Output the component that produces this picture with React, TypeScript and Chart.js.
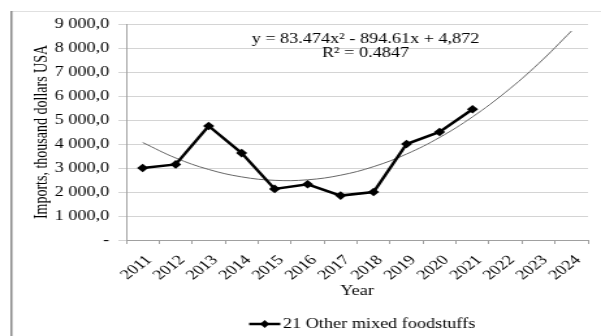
import { useEffect, useRef } from "react";
import { Chart, registerables } from "chart.js";

Chart.register(...registerables);

const years = ["2011", "2012", "2013", "2014", "2015", "2016", "2017", "2018", "2019", "2020", "2021", "2022", "2023", "2024"];
const imports: (number | null)[] = [3000, 3150, 4750, 3620, 2130, 2320, 1850, 2000, 4000, 4500, 5450, null, null, null];
const trend = [4061, 3417, 2939, 2629, 2486, 2509, 2700, 3057, 3582, 4273, 5132, 6157, 7349, 8708];
const seriesLabel = "21 Other mixed foodstuffs";
const equationText = "y = 83.474x² - 894.61x + 4,872";
const r2Text = "R² = 0.4847";
const yTitle = "Imports, thousand dollars USA";
const xTitle = "Year";

const FONT = '"Liberation Serif", "Times New Roman", serif';
// The reference picture is horizontally stretched; draw on a narrower canvas and widen it.
const CANVAS_W = 462;
const PAGE_W = 601;
const PAGE_H = 336;

function fmt(v: number): string {
  if (v === 0) return "-";
  const th = Math.floor(v / 1000);
  const rest = String(Math.round(v % 1000)).padStart(3, "0");
  return `${th} ${rest},0`;
}

export default function App() {
  const ref = useRef<HTMLCanvasElement | null>(null);

  useEffect(() => {
    if (!ref.current) return;

    const framePlugin = {
      id: "frame",
      beforeDraw(chart: any) {
        const ctx = chart.ctx;
        ctx.save();
        ctx.strokeStyle = "#e0e0e0";
        ctx.lineWidth = 1;
        ctx.beginPath();
        ctx.moveTo(8.5, 11.5);
        ctx.lineTo(CANVAS_W, 11.5);
        ctx.stroke();
        ctx.strokeStyle = "#8a8a8a";
        ctx.lineWidth = 1.5;
        ctx.beginPath();
        ctx.moveTo(8.75, 11);
        ctx.lineTo(8.75, PAGE_H);
        ctx.stroke();
        ctx.restore();
      },
    };

    const overlayPlugin = {
      id: "overlay",
      afterDraw(chart: any) {
        const ctx = chart.ctx;
        ctx.save();
        ctx.font = `14px ${FONT}`;
        ctx.fillStyle = "#000";
        ctx.textAlign = "center";
        ctx.textBaseline = "middle";
        ctx.fillText(equationText, 281, 39);
        ctx.fillText(r2Text, 281, 53);

        // legend: line with a diamond marker, then the series name
        const ly = 324;
        const lx0 = 191.5;
        const lx1 = 215.5;
        const cx = (lx0 + lx1) / 2;
        ctx.strokeStyle = "#000";
        ctx.lineWidth = 2.5;
        ctx.beginPath();
        ctx.moveTo(lx0, ly);
        ctx.lineTo(lx1, ly);
        ctx.stroke();
        ctx.beginPath();
        ctx.moveTo(cx, ly - 4);
        ctx.lineTo(cx + 3.5, ly);
        ctx.lineTo(cx, ly + 4);
        ctx.lineTo(cx - 3.5, ly);
        ctx.closePath();
        ctx.fill();
        ctx.textAlign = "left";
        ctx.fillText(seriesLabel, 217.5, ly);
        ctx.restore();
      },
    };

    const chart = new Chart(ref.current, {
      type: "line",
      data: {
        labels: years,
        datasets: [
          {
            label: seriesLabel,
            data: imports,
            borderColor: "#000",
            backgroundColor: "#000",
            borderWidth: 2.5,
            pointStyle: "rectRot",
            pointRadius: 4.3,
            pointBackgroundColor: "#000",
            pointBorderColor: "#000",
            pointBorderWidth: 0,
            tension: 0,
            spanGaps: false,
          },
          {
            label: "trend",
            data: trend,
            borderColor: "#666",
            borderWidth: 1,
            pointRadius: 0,
            tension: 0.4,
          },
        ],
      },
      options: {
        animation: false,
        responsive: false,
        devicePixelRatio: 1,
        layout: { padding: { left: 20, right: 10, top: 24, bottom: 0 } },
        plugins: {
          tooltip: { enabled: false },
          legend: { display: false },
        },
        scales: {
          x: {
            type: "category",
            offset: true,
            afterFit: (s: any) => {
              s.height = 96;
            },
            grid: {
              display: true,
              drawOnChartArea: false,
              drawTicks: true,
              tickLength: 4,
              offset: true,
              color: "#a0a0a0",
            },
            border: { display: true, color: "#a0a0a0" },
            ticks: {
              minRotation: 45,
              maxRotation: 45,
              autoSkip: false,
              padding: 8,
              labelOffset: 5,
              color: "#000",
              font: { family: FONT, size: 14 },
            },
            title: {
              display: true,
              text: xTitle,
              color: "#000",
              font: { family: FONT, size: 14 },
              padding: { top: 4, bottom: 36 },
            },
          },
          y: {
            min: 0,
            max: 9000,
            afterFit: (s: any) => {
              s.width = 77;
            },
            grid: {
              color: "#d4d4d4",
              tickLength: 6,
            },
            border: { display: true, color: "#a0a0a0" },
            ticks: {
              stepSize: 1000,
              padding: 7,
              color: "#000",
              font: { family: FONT, size: 14 },
              callback: (v: any) => fmt(Number(v)),
            },
            title: {
              display: true,
              text: yTitle,
              color: "#000",
              font: { family: FONT, size: 14 },
            },
          },
        },
      },
      plugins: [framePlugin, overlayPlugin],
    });

    return () => chart.destroy();
  }, []);

  return (
    <div style={{ position: "fixed", left: 0, top: 0, width: PAGE_W, height: PAGE_H, background: "#fff", overflow: "hidden" }}>
      <div style={{ transform: `scaleX(${PAGE_W / CANVAS_W})`, transformOrigin: "0 0", width: CANVAS_W, height: PAGE_H }}>
        <canvas ref={ref} width={CANVAS_W} height={PAGE_H} style={{ width: CANVAS_W, height: PAGE_H, display: "block" }} />
      </div>
    </div>
  );
}
